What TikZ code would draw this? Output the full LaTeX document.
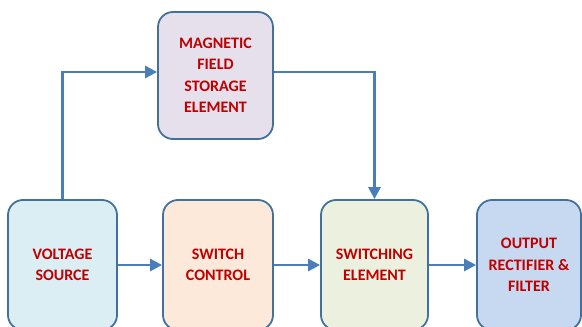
\documentclass[tikz,border=0pt]{standalone}
\usepackage{fontspec}
\setmainfont{Carlito}
\usetikzlibrary{arrows.meta}
\definecolor{bordc}{HTML}{41719C}
\definecolor{arrc}{HTML}{4A7EBB}
\definecolor{txtc}{HTML}{C00000}
\definecolor{fvs}{HTML}{DAEEF3}
\definecolor{fsc}{HTML}{FDE9D9}
\definecolor{fsw}{HTML}{EBF1DE}
\definecolor{fout}{HTML}{C6D9F1}
\definecolor{fmag}{HTML}{E6E0EC}
\tikzset{
  blk/.style={draw=bordc, line width=1.8pt, rounded corners=15pt, align=center,
    text=txtc, font=\bfseries\fontsize{16}{21.5}\selectfont, inner sep=0pt},
  arr/.style={draw=arrc, line width=2.8pt, -{Triangle[length=12pt,width=12pt]}}
}
\begin{document}
\begin{tikzpicture}[x=1pt,y=-1pt]
\useasboundingbox (0,0) rectangle (582,327);
\clip (0,0) rectangle (582,327);
\node[blk, fill=fmag, minimum width=115pt, minimum height=127pt] (mag) at (215.5,75.5) {MAGNETIC\\FIELD\\STORAGE\\ELEMENT};
\node[blk, fill=fvs, minimum width=109pt, minimum height=130pt] (vs) at (62.5,265) {VOLTAGE\\SOURCE};
\node[blk, fill=fsc, minimum width=110pt, minimum height=130pt] (sc) at (218,265) {SWITCH\\CONTROL};
\node[blk, fill=fsw, minimum width=107pt, minimum height=130pt] (sw) at (374.5,265) {SWITCHING\\ELEMENT};
\node[blk, fill=fout, minimum width=104pt, minimum height=130pt] (out) at (529,265) {OUTPUT\\RECTIFIER \&\\FILTER};
\draw[arr] (vs.east) -- (sc.west);
\draw[arr] (sc.east) -- (sw.west);
\draw[arr] (sw.east) -- (out.west);
\draw[arr] (vs.north) |- ([yshift=3.5pt]mag.west);
\draw[arr] ([yshift=3.5pt]mag.east) -| (sw.north);
\end{tikzpicture}
\end{document}
